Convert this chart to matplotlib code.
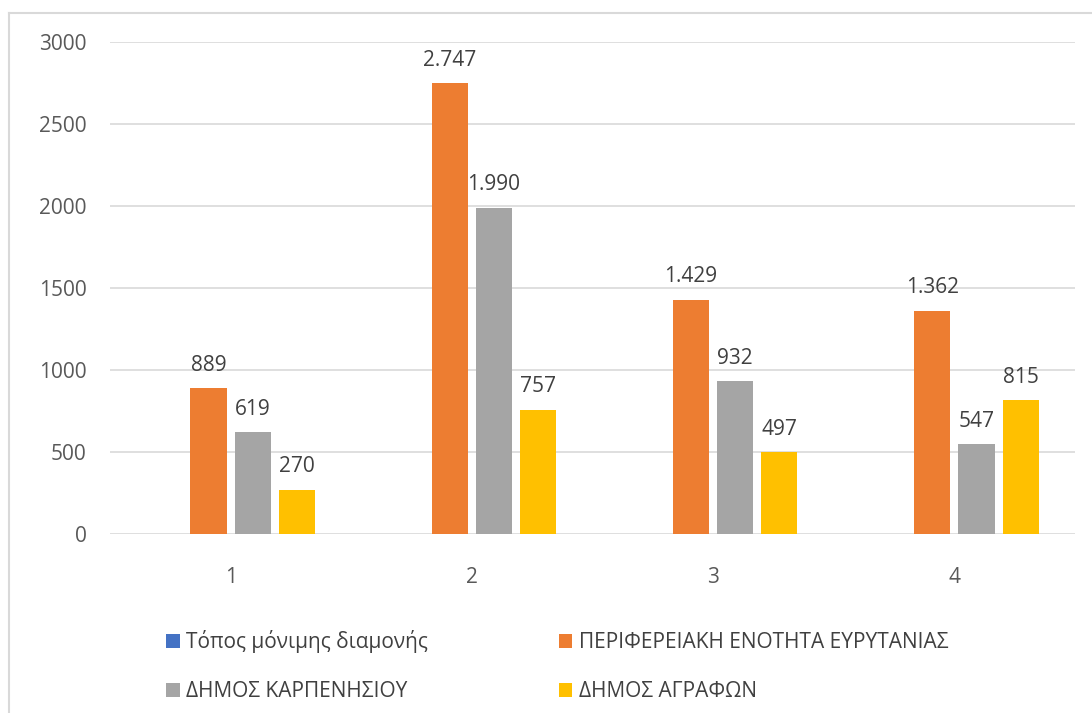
import matplotlib
matplotlib.use("Agg")
import matplotlib.pyplot as plt
import numpy as np
from matplotlib import font_manager as fm
from matplotlib.patches import Patch

categories = ["1", "2", "3", "4"]
series_names = ["Τόπος μόνιμης διαμονής", "ΠΕΡΙΦΕΡΕΙΑΚΗ ΕΝΟΤΗΤΑ ΕΥΡΥΤΑΝΙΑΣ",
                "ΔΗΜΟΣ ΚΑΡΠΕΝΗΣΙΟΥ", "ΔΗΜΟΣ ΑΓΡΑΦΩΝ"]
topos = [np.nan, np.nan, np.nan, np.nan]
perifereia = [889, 2747, 1429, 1362]
karpenisi = [619, 1990, 932, 547]
agrafa = [270, 757, 497, 815]
yticks = [0, 500, 1000, 1500, 2000, 2500, 3000]

colors = ["#4472C4", "#ED7D31", "#A5A5A5", "#FFC000"]

avail = {f.name for f in fm.fontManager.ttflist}
base_font = "Open Sans" if "Open Sans" in avail else "DejaVu Sans"
plt.rcParams['font.family'] = [base_font, 'DejaVu Sans']

fig = plt.figure(figsize=(10.92, 7.13), dpi=100)
ax = fig.add_axes([110/1092, 1-534/713, (1075-110)/1092, (534-42)/713])

x = np.arange(len(categories))
pitch = 0.183
width = 0.15
all_series = [topos, perifereia, karpenisi, agrafa]
for i, (vals, name, c) in enumerate(zip(all_series, series_names, colors)):
    off = (i - 1.5) * pitch
    if i == 0:
        # empty series: occupies its slot but has no values
        continue
    ax.bar(x + off, vals, width, color=c, label=name, zorder=3)
    for xi, v in zip(x + off, vals):
        lab = f"{v:,}".replace(",", ".")
        ax.annotate(lab, (xi, v), xytext=(0, 9), textcoords="offset points",
                    ha="center", va="bottom", fontsize=15, color="#404040")

ax.set_xlim(-0.5, len(categories) - 0.5)
ax.set_ylim(0, 3000)
ax.set_yticks(yticks)
ax.set_yticklabels([str(t) for t in yticks])
ax.set_xticks(x)
ax.set_xticklabels(categories)
ax.tick_params(axis="y", length=0, pad=17, labelsize=15, labelcolor="#595959")
ax.tick_params(axis="x", length=0, pad=24, labelsize=15, labelcolor="#595959")
for s in ax.spines.values():
    s.set_visible(False)
ax.grid(axis="y", color="#D9D9D9", linewidth=1.2, zorder=0)
ax.set_axisbelow(True)

# chart frame (left and top edges visible)
fig.add_artist(plt.Line2D([9/1092, 9/1092], [0, 1-13/713], transform=fig.transFigure,
                          color="#D9D9D9", linewidth=1.5))
fig.add_artist(plt.Line2D([9/1092, 1], [1-13/713, 1-13/713], transform=fig.transFigure,
                          color="#D9D9D9", linewidth=1.5))

order = [0, 2, 1, 3]
proxy = [Patch(facecolor=colors[k], edgecolor="none") for k in range(4)]
leg = fig.legend([proxy[k] for k in order], [series_names[k] for k in order],
                 ncol=2, loc="upper left", bbox_to_anchor=(166/1092, 1-630/713),
                 frameon=False, prop={"size": 15},
                 handlelength=0.65, handleheight=0.65, handletextpad=0.3,
                 columnspacing=6.3, labelspacing=1.35, borderpad=0, borderaxespad=0)
for t in leg.get_texts():
    t.set_color("#404040")

fig.savefig("out.png", dpi=100, facecolor="white")
